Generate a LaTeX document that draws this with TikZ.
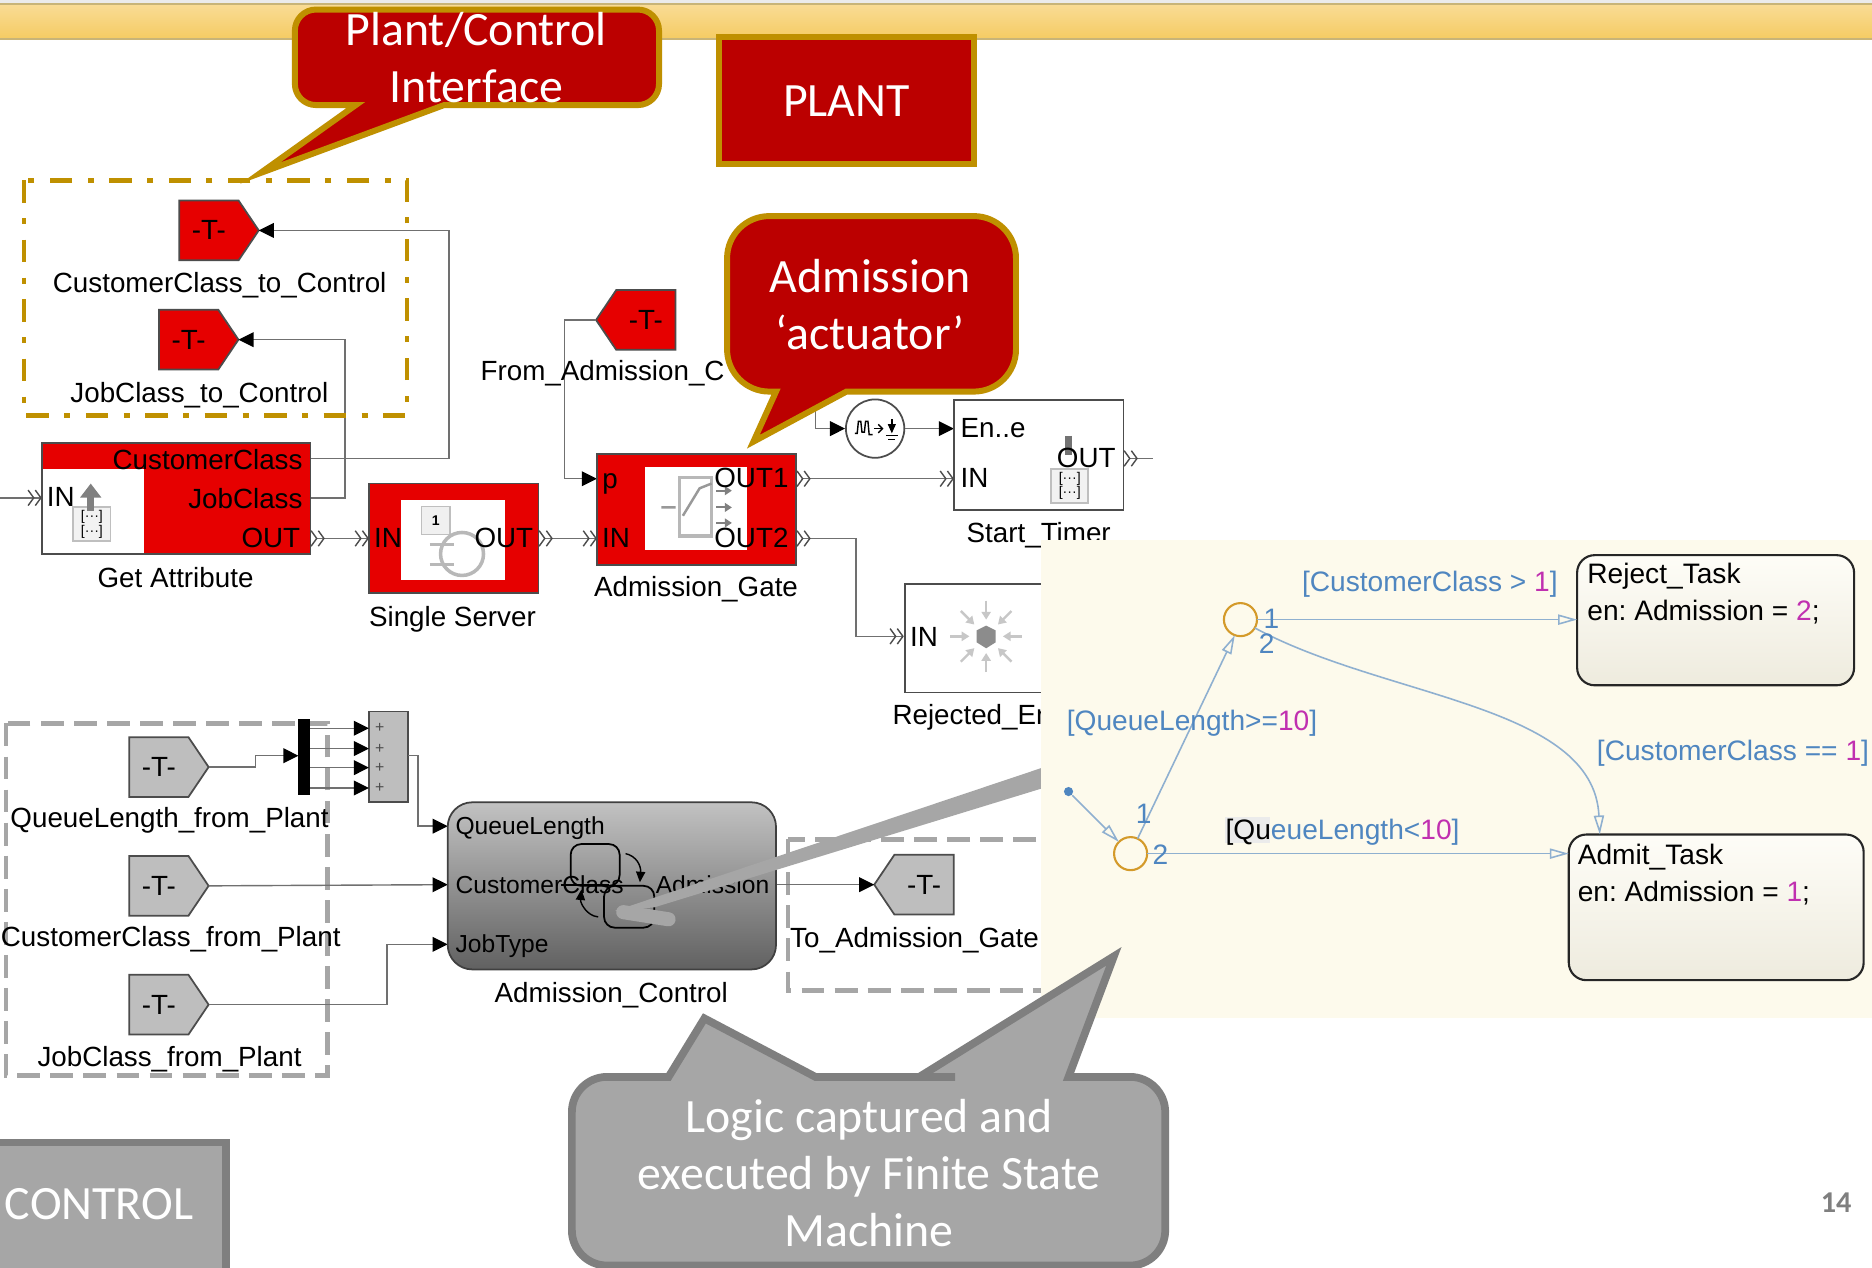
\documentclass[tikz,border=0pt]{standalone}
\usepackage{fontspec}
\setmainfont{Liberation Sans}
\newfontfamily\callfont{Carlito}
\usetikzlibrary{arrows.meta,fit,shapes.symbols}

\definecolor{slidered}{HTML}{BB0000}
\definecolor{slidegold}{HTML}{BF9000}
\definecolor{blockred}{HTML}{E60000}
\definecolor{slidegray}{HTML}{A6A6A6}
\definecolor{edgegray}{HTML}{7F7F7F}
\definecolor{taggray}{HTML}{BEBEBE}
\definecolor{wiregray}{HTML}{707070}
\definecolor{icongray}{HTML}{B8B8B8}
\definecolor{panelcream}{HTML}{FDFAEC}
\definecolor{flowblue}{HTML}{4F86C0}
\definecolor{flowline}{HTML}{8FB0D0}
\definecolor{flowmag}{HTML}{C030B0}
\definecolor{jctgold}{HTML}{D49A2A}
\definecolor{bandlight}{HTML}{F9DC96}
\definecolor{bandgold}{HTML}{F5CB62}
\definecolor{bandedge}{HTML}{C8B478}

\tikzset{
  blocktext/.style={font=\fontsize{7.9}{9.6}\selectfont,inner sep=0pt,text depth=1.7pt,yshift=-0.7pt},
  charttext/.style={blocktext,font=\fontsize{7}{8.4}\selectfont},
  calltext/.style={font=\callfont\fontsize{13.6}{16.2}\selectfont,text=white,align=center,inner sep=0pt},
  callred/.style={fill=slidered,draw=slidegold,line width=1.7pt,line join=miter},
  callgray/.style={fill=slidegray,draw=edgegray,line width=2.2pt,line join=miter},
  boxnode/.style={fit={#1},inner sep=0pt,outer sep=0pt,rectangle},
  redblock/.style={boxnode={#1},fill=blockred,draw=black!70,line width=0.5pt},
  whiteblock/.style={boxnode={#1},fill=white,draw=black!70,line width=0.5pt},
  iconpane/.style={boxnode={#1},fill=white},
  tagnode/.style={signal,draw=black!70,line width=0.5pt,inner sep=0pt,outer sep=0pt,
    minimum width=22.6pt,minimum height=17pt,signal pointer angle=112,
    font=\fontsize{7.9}{9.6}\selectfont},
  redtag/.style={tagnode,fill=blockred},
  graytag/.style={tagnode,fill=taggray},
  wire/.style={draw=wiregray,line width=0.4pt},
  sigarrow/.style={wire,-{Triangle[length=4.3pt,width=4.2pt,black]}},
  evin/.style={wire,-{Straight Barb[length=1.6pt,width=4.4pt,black!70]Straight Barb[length=1.6pt,width=4.4pt,black!70]}},
  evout/.style={wire,{Straight Barb[reversed,length=1.6pt,width=4.4pt,black!70]Straight Barb[reversed,length=1.6pt,width=4.4pt,black!70]}-},
  evboth/.style={wire,{Straight Barb[reversed,length=1.6pt,width=4.4pt,black!70]Straight Barb[reversed,length=1.6pt,width=4.4pt,black!70]}-{Straight Barb[length=1.6pt,width=4.4pt,black!70]Straight Barb[length=1.6pt,width=4.4pt,black!70]}},
  goldbox/.style={draw=slidegold,line width=1.3pt,dash pattern=on 6.4pt off 4.4pt on 1.7pt off 4.4pt},
  graybox/.style={draw=slidegray,line width=1.4pt,dash pattern=on 6.5pt off 2.9pt},
  iconline/.style={draw=icongray,line width=1pt},
  iconbox/.style={fill=black!5,draw=black!25,line width=0.5pt,inner sep=0pt,align=center,
    minimum width=10.6pt,minimum height=9.8pt,font=\fontsize{4}{4.2}\selectfont},
  jct/.style={circle,draw=jctgold,line width=0.6pt,minimum size=9.4pt,inner sep=0pt,outer sep=0pt},
  flowwire/.style={draw=flowline,line width=0.45pt,-{Triangle[open,length=5.4pt,width=2.9pt]}},
  flowtext/.style={blocktext,font=\fontsize{8}{9.6}\selectfont,text=flowblue},
  statetext/.style={blocktext,font=\fontsize{8}{9.6}\selectfont},
  statebox/.style={boxnode={#1},rounded corners=5pt,draw=black!85,line width=0.6pt,
    top color=white!60!panelcream,bottom color=black!6!panelcream},
}

\begin{document}
\frenchspacing
\begin{tikzpicture}[x=0.011939cm,y=-0.011939cm]

\path[use as bounding box,clip] (0,0) rectangle (1568,1062);
\fill[white] (0,0) rectangle (1568,1062);

% band along the top
\fill[black!8] (0,0) rectangle (1568,3);
\shade[top color=bandlight,bottom color=bandgold] (0,3) rectangle (1568,33);
\draw[bandedge,line width=0.5pt] (0,3.5) -- (1568,3.5) (0,32.5) -- (1568,32.5);

% wires of the plant part
\coordinate (getattr-cc) at (260,384);
\coordinate (getattr-jc) at (260,417);
\coordinate (getattr-in) at (35,417);
\coordinate (getattr-out) at (260,451);
\coordinate (server-in) at (309,451);
\coordinate (server-out) at (451,451);
\coordinate (gate-p) at (500,401);
\coordinate (gate-in) at (500,451);
\coordinate (gate-o1) at (667,401);
\coordinate (gate-o2) at (667,451);
\coordinate (timer-en) at (799,359);
\coordinate (timer-in) at (799,401);
\coordinate (timer-out) at (941,384);
\coordinate (timer-end) at (966,384);
\coordinate (rejected-in) at (757,533);
\coordinate (line-start) at (0,417);
\coordinate (conv-feed) at (683,320);

\node[redtag] (tagcc) at (175,193) {-T-};
\node[redtag] (tagjc) at (158,284.5) {-T-};
\node[redtag,signal to=west] (tagadm) at (541,268) {-T-};
\node[circle,draw=black!70,fill=white,line width=0.5pt,minimum size=16.6pt,inner sep=0pt] (conv) at (733,359) {};

\draw[sigarrow] (getattr-cc) -- (376,384) |- (tagcc.east);
\draw[sigarrow] (getattr-jc) -- (289,417) |- (tagjc.east);
\draw[evin] (line-start) -- (getattr-in);
\draw[evboth] (getattr-out) -- (server-in);
\draw[evboth] (server-out) -- (gate-in);
\draw[sigarrow] (tagadm.west) -- (473,268) |- (gate-p);
\draw[sigarrow] (conv-feed) |- (conv.west);
\draw[sigarrow] (conv.east) -- (timer-en);
\draw[evboth] (gate-o1) -- (timer-in);
\draw[evout] (timer-out) -- (timer-end);
\draw[evboth] (gate-o2) -- (717,451) |- (rejected-in);

% blocks of the plant part
\node[redblock={(35,371) (260,464)}] (getattr) {};
\node[iconpane={(36,393) (121,463)}] (getattr-pane) {};
\node[iconbox] (getattr-icon) at (77,439) {[···]\\[0pt][···]};
\draw[gray,line width=2pt,-{Triangle[length=4pt,width=5.8pt,gray]}] (76,428) -- (76,405);
\node[blocktext,anchor=east] (cc-text) at (254,385) {CustomerClass};
\node[blocktext,anchor=east] (jc-text) at (254,418) {JobClass};
\node[blocktext,anchor=east] (out-text) at (252,451) {OUT};
\node[blocktext] (in-text) at (51,417) {IN};
\node[blocktext] (getattr-label) at (147,484) {Get Attribute};

\node[redblock={(309,405) (451,497)}] (server) {};
\node[iconpane={(336,419) (423,486)}] (server-pane) {};
\node[fill=black!6,draw=black!25,line width=0.4pt,minimum size=8pt,inner sep=0.5pt,
  font=\bfseries\fontsize{4}{4}\selectfont] (server-one) at (365,436) {1};
\draw[iconline] (387,464) circle (18);
\draw[iconline] (360,456) -- (380,456) (360,473) -- (380,473);
\node[blocktext] (server-in-text) at (325,451) {IN};
\node[blocktext] (server-out-text) at (422,451) {OUT};
\node[blocktext] (server-label) at (379,517) {Single Server};

\node[redblock={(500,380) (667,473)}] (gate) {};
\node[iconpane={(540,391) (626,461)}] (gate-pane) {};
\draw[iconline] (569,400) rectangle (596,449);
\draw[iconline,line width=0.7pt,draw=gray!80] (554,425) -- (566,425) (572,432) -- (586,409) -- (596,405);
\foreach \y in {411,425,438}
  \draw[iconline,line width=0.6pt,draw=gray,-{Triangle[length=2pt,width=2.5pt,gray]}] (600,\y) -- (613,\y);
\node[blocktext] (gate-p-text) at (511,403) {p};
\node[blocktext] (gate-in-text) at (516,451) {IN};
\node[blocktext,anchor=east] (gate-o1-text) at (661,401) {OUT1};
\node[blocktext,anchor=east] (gate-o2-text) at (661,451) {OUT2};
\node[blocktext] (gate-label) at (583,492) {Admission\_Gate};

\node[whiteblock={(799,335) (941,427)}] (timer) {};
\draw[black!55,line width=2pt] (895,365) -- (895,381);
\node[iconbox] (timer-icon) at (896,407) {[···]\\[0pt][···]};
\node[blocktext,anchor=west] (timer-en-text) at (804,359) {En..e};
\node[blocktext,anchor=west] (timer-in-text) at (804,401) {IN};
\node[blocktext,anchor=east] (timer-out-text) at (935,384) {OUT};
\draw[black,line width=0.4pt] (716,363) -- (718,363) -- (719,353) -- (721,353) -- (722,362) -- (724,362) -- (725,353) -- (727,353) -- (728,364) -- (731,364);
\draw[black,line width=0.4pt,-{Straight Barb[length=1.2pt,width=2.4pt]}] (732,359) -- (740,359);
\draw[black,line width=0.4pt,-{Triangle[length=2.6pt,width=2.2pt]}] (747,351) -- (747,363);
\draw[black,line width=0.4pt] (742,365) -- (752,365) (744,368) -- (750,368);

\node[whiteblock={(758,489) (900,580)}] (rejected) {};
\foreach \a in {0,45,...,315}
  \draw[black!22,line width=0.7pt,-{Triangle[length=2.2pt,width=2.6pt]}] ({826+30*cos(\a)},{533+30*sin(\a)}) -- ({826+14*cos(\a)},{533+14*sin(\a)});
\fill[black!45] (826,524) -- (834,528) -- (834,538) -- (826,543) -- (818,538) -- (818,528) -- cycle;
\node[blocktext] (rejected-in-text) at (774,534) {IN};
\node[blocktext,anchor=west] (rejected-label) at (747,599) {Rejected\_En};

\node[blocktext] (start-label) at (870,446) {Start\_Timer};
\node[blocktext,anchor=west] (tagadm-label) at (402,311) {From\_Admission\_C};
\node[blocktext] (tagcc-label) at (184,237) {CustomerClass\_to\_Control};
\node[blocktext] (tagjc-label) at (167,329) {JobClass\_to\_Control};

% dashed frames
\draw[goldbox] (20,151) rectangle (341,348);
\draw[graybox] (5,606) rectangle (274,901);
\draw[graybox] (660,703) rectangle (900,830);

% control part
\coordinate (chart-ql) at (375,692);
\coordinate (chart-cc) at (375,741);
\coordinate (chart-jt) at (375,791);
\coordinate (chart-out) at (650,741);
\coordinate (mux-in) at (250,633);
\coordinate (sum-out) at (342,633);

\node[graytag] (tagql) at (133,642.5) {-T-};
\node[graytag] (tagcl) at (133,742) {-T-};
\node[graytag] (tagjb) at (133,841.5) {-T-};
\node[graytag,signal to=west] (tagto) at (774,741) {-T-};

\node[boxnode={(250,602) (260,666)},fill=black] (mux) {};
\node[boxnode={(309,596) (342,672)},fill=taggray,draw=black!70,line width=0.5pt] (sum) {};
\foreach \y/\n in {610/1,627/2,643/3,660/4} {
  \coordinate (sum-\n) at (309,\y);
  \draw[sigarrow] (mux.east |- sum-\n) -- (sum-\n);
  \node[font=\fontsize{4.5}{5}\selectfont,text=black!70,inner sep=0pt] (plus-\n) at (318,\y) {+};
}
\draw[sigarrow] (tagql.east) -| (214,633) -- (mux-in);
\draw[sigarrow] (sum-out) -- (350,633) |- (chart-ql);
\draw[sigarrow] (tagcl.east) -- (chart-cc);
\draw[sigarrow] (tagjb.east) -| (324,791) -- (chart-jt);
\draw[sigarrow] (chart-out) -- (tagto.west);

\node[boxnode={(375,672) (650,812)},rounded corners=7pt,draw=black!75,line width=0.5pt,
  top color=black!24,middle color=black!40,bottom color=black!62] (chart) {};
\draw[black,line width=0.5pt,rounded corners=3pt] (478,707) rectangle (519,742);
\draw[black,line width=0.5pt,rounded corners=3pt] (506,742) rectangle (548,777);
\draw[black,line width=0.5pt] (470,741) -- (510,741);
\draw[black,line width=0.4pt,-{Triangle[length=3pt,width=2.6pt]}] (524,715) .. controls (533,717) and (537,725) .. (536,739);
\draw[black,line width=0.4pt,-{Triangle[length=3pt,width=2.6pt]}] (501,768) .. controls (491,767) and (486,756) .. (487,745);
\node[charttext,anchor=west] (chart-ql-text) at (381,692) {QueueLength};
\node[charttext,anchor=west] (chart-cc-text) at (381,741) {CustomerClass};
\node[charttext,anchor=west] (chart-jt-text) at (381,791) {JobType};
\node[charttext,anchor=east] (chart-out-text) at (645,741) {Admission};
\node[blocktext] (chart-label) at (512,832) {Admission\_Control};

\node[blocktext] (tagql-label) at (142,685) {QueueLength\_from\_Plant};
\node[blocktext] (tagcl-label) at (143,785) {CustomerClass\_from\_Plant};
\node[blocktext] (tagjb-label) at (142,885) {JobClass\_from\_Plant};
\node[blocktext] (tagto-label) at (766,786) {To\_Admission\_Gate};

% pointer into the chart block
\fill[slidegray] (900,634) -- (515,763) -- (548,760) -- (900,652) -- cycle;
\draw[slidegray,line width=4pt,line cap=round] (522,764) -- (560,770);

% state machine panel
\fill[panelcream] (872,452) rectangle (1568,853);

\node[statebox={(1321,465) (1553,574)}] (reject) {};
\node[statebox={(1314,699) (1561,821)}] (admit) {};
\node[jct] (jtop) at (1039,519) {};
\node[jct] (jbot) at (947,715) {};
\node[circle,fill=flowblue,minimum size=2.6pt,inner sep=0pt] (entry) at (895,663) {};
\coordinate (admit-top) at (1340,699);

\draw[flowwire] (entry) -- (jbot.135);
\draw[flowwire] (jbot.65) -- (jtop.250);
\draw[flowwire] (jtop) -- (reject.west |- jtop);
\draw[flowwire] (jbot) -- (admit.west |- jbot);
\draw[flowwire] (jtop.-30) .. controls (1160,585) and (1335,590) .. (admit-top);

\node[flowtext] (jtop-one) at (1065,519) {1};
\node[flowtext] (jtop-two) at (1061,540) {2};
\node[flowtext] (jbot-one) at (958,682) {1};
\node[flowtext] (jbot-two) at (972,716) {2};

\node[statetext,anchor=west] (reject-name) at (1329,481) {Reject\_Task};
\node[statetext,anchor=west] (reject-act) at (1329,512) {en: Admission = {\color{flowmag}2};};
\node[statetext,anchor=west] (admit-name) at (1321,716) {Admit\_Task};
\node[statetext,anchor=west] (admit-act) at (1321,747) {en: Admission = {\color{flowmag}1};};

\node[flowtext,anchor=west] (guard-high) at (1090,487) {[CustomerClass > {\color{flowmag}1}]};
\node[flowtext,anchor=west] (guard-long) at (893,604) {[QueueLength>={\color{flowmag}10}]};
\node[flowtext,anchor=west] (guard-low) at (1337,629) {[CustomerClass == {\color{flowmag}1}]};
\fill[black!8] (1026,684) rectangle (1064,706);
\node[flowtext,anchor=west] (guard-short) at (1026,695) {{\color{black}[Qu}eueLength<{\color{flowmag}10}]};

% callouts
\draw[callred] (460,88) [rounded corners=6pt] -- (552,88) -- (552,8) -- (247,8) -- (247,88) [sharp corners] -- (298,88) -- (218,145) -- (372,88) -- cycle;
\node[calltext] (plant-call) at (399,48) {Plant/Control\\Interface};

\draw[callred] (602,31) rectangle (816,137);
\node[calltext] (plant-name) at (709,85) {PLANT};

\draw[callred] (780,328) [rounded corners=12pt] -- (851,328) -- (851,181) -- (609,181) -- (609,328) [sharp corners] -- (650,328) -- (631,370) -- (709,328) -- cycle;
\node[calltext] (actuator-call) at (729,255) {Admission\\‘actuator’};

\draw[callgray] (800,902) -- (770,902) -- (933,801) -- (895,902) [rounded corners=10pt] -- (976,902) -- (976,1060) -- (479,1060) -- (479,902) [sharp corners] -- (560,902) -- (590,853) -- (683,902) -- cycle;
\node[calltext] (logic-call) at (728,982.5) {Logic captured and\\executed by Finite State\\Machine};

\draw[callgray] (-10,957) rectangle (189,1075);
\node[calltext] (control-name) at (83,1009) {CONTROL};

\node[font=\callfont\bfseries\fontsize{8.6}{10}\selectfont,text=edgegray,inner sep=0pt] (page-no) at (1538,1007) {14};

\end{tikzpicture}
\end{document}
